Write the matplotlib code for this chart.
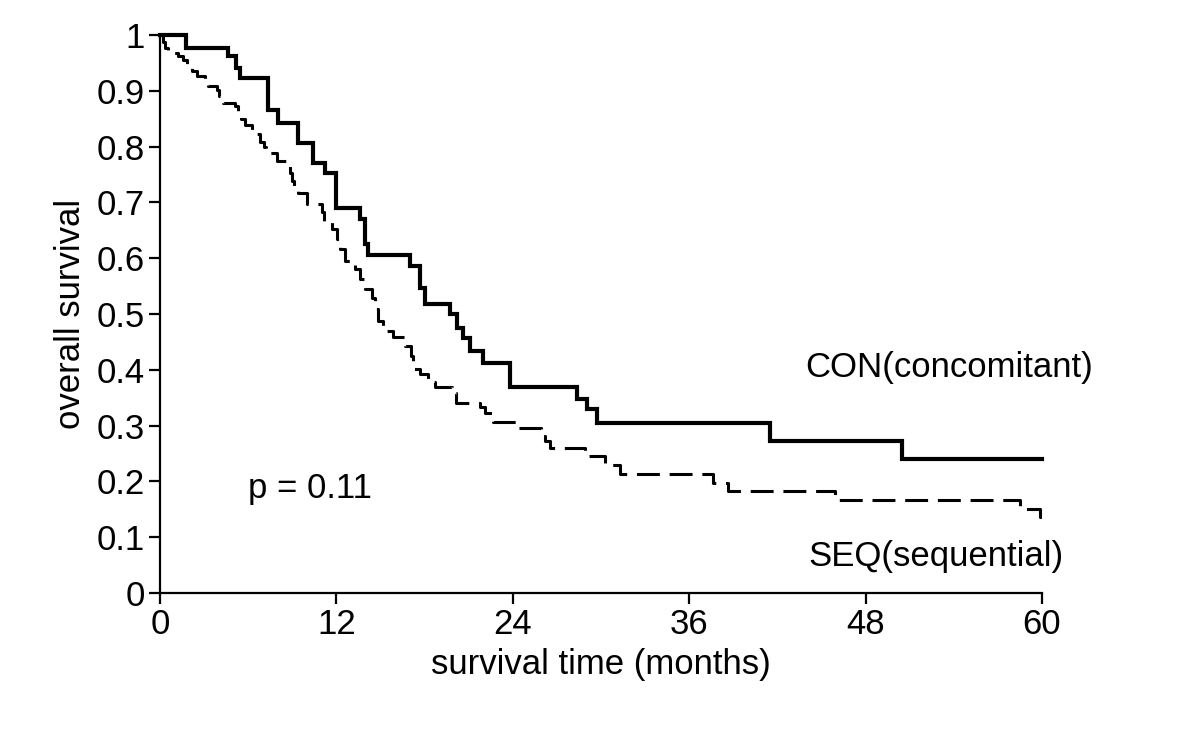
import matplotlib
matplotlib.use("Agg")
import matplotlib.pyplot as plt

# ---- data ----
con_t = [0, 1.77, 4.63, 5.17, 5.44, 7.35, 8.03, 9.39, 10.41, 11.22, 11.97, 13.6, 13.95,
         14.15, 17.0, 17.69, 18.03, 19.73, 20.2, 20.6, 21.09, 21.97, 23.8, 28.37, 29.05,
         29.73, 41.5, 50.5, 60]
con_s = [1.0, 0.977, 0.962, 0.94, 0.923, 0.865, 0.843, 0.806, 0.77, 0.752, 0.69, 0.671,
         0.626, 0.606, 0.586, 0.547, 0.518, 0.5, 0.475, 0.457, 0.433, 0.412, 0.37, 0.347,
         0.329, 0.304, 0.273, 0.241, 0.241]

seq_t = [0, 0.2, 0.34, 0.54, 1.22, 1.56, 1.84, 2.18, 2.52, 3.06, 3.27, 3.88, 4.01, 4.29,
         5.10, 5.31, 5.51, 5.78, 6.26, 6.80, 7.07, 7.21, 7.96, 8.71, 8.84, 8.98, 9.12, 9.39,
         10.0, 11.02, 11.16, 11.7, 12.04, 12.24, 12.59, 13.27, 13.61, 13.95, 14.42, 14.63,
         14.83, 15.17, 15.85, 16.67, 17.07, 17.21, 17.69, 18.23, 18.71, 19.86, 20.14, 21.77,
         22.11, 22.65, 24.35, 25.92, 26.19, 26.53, 28.91, 30.27, 31.29, 37.62, 38.64, 45.92,
         58.5, 59.86, 60]
seq_s = [1.0, 0.987, 0.977, 0.968, 0.962, 0.955, 0.948, 0.935, 0.926, 0.919, 0.908, 0.901,
         0.890, 0.879, 0.872, 0.862, 0.849, 0.838, 0.822, 0.809, 0.799, 0.788, 0.775, 0.766,
         0.752, 0.739, 0.727, 0.716, 0.698, 0.682, 0.667, 0.653, 0.635, 0.617, 0.595, 0.581,
         0.563, 0.545, 0.529, 0.509, 0.487, 0.469, 0.459, 0.442, 0.424, 0.401, 0.392, 0.379,
         0.369, 0.358, 0.340, 0.333, 0.322, 0.306, 0.295, 0.282, 0.272, 0.259, 0.246, 0.230,
         0.214, 0.198, 0.183, 0.167, 0.151, 0.137, 0.137]

x_ticks = [0, 12, 24, 36, 48, 60]
y_ticks = [0, 0.1, 0.2, 0.3, 0.4, 0.5, 0.6, 0.7, 0.8, 0.9, 1.0]
y_tick_labels = ["0", "0.1", "0.2", "0.3", "0.4", "0.5", "0.6", "0.7", "0.8", "0.9", "1"]

label_con = "CON(concomitant)"
label_seq = "SEQ(sequential)"
p_text = "p = 0.11"

# ---- figure ----
plt.rcParams['font.family'] = ['Liberation Sans', 'DejaVu Sans']
fig = plt.figure(figsize=(12, 7.36), dpi=100)
ax = fig.add_axes([160/1200, 1 - 593/736, (1042-160)/1200, (593-35)/736])

ax.plot(con_t, con_s, drawstyle='steps-post', color='black', lw=3.0,
        solid_joinstyle='miter', clip_on=False)
ax.plot(seq_t, seq_s, drawstyle='steps-post', color='black', lw=2.2,
        dashes=(7.5, 3.2), clip_on=False)

ax.set_xlim(0, 60)
ax.set_ylim(0, 1)
ax.set_xticks(x_ticks)
ax.set_xticklabels([str(v) for v in x_ticks])
ax.set_yticks(y_ticks)
ax.set_yticklabels(y_tick_labels)

for s in ['top', 'right']:
    ax.spines[s].set_visible(False)
for s in ['left', 'bottom']:
    ax.spines[s].set_linewidth(1.6)

ax.tick_params(axis='both', direction='out', length=8, width=1.6,
               labelsize=25, pad=3)

ax.set_xlabel("survival time (months)", fontsize=25, labelpad=5)
ax.set_ylabel("overall survival", fontsize=25, labelpad=7)

ax.text(43.9, 0.405, label_con, fontsize=25, va='center', ha='left')
ax.text(44.1, 0.065, label_seq, fontsize=25, va='center', ha='left')
ax.text(6.0, 0.187, p_text, fontsize=25, va='center', ha='left')

fig.savefig("out.png", dpi=100, facecolor='white')
